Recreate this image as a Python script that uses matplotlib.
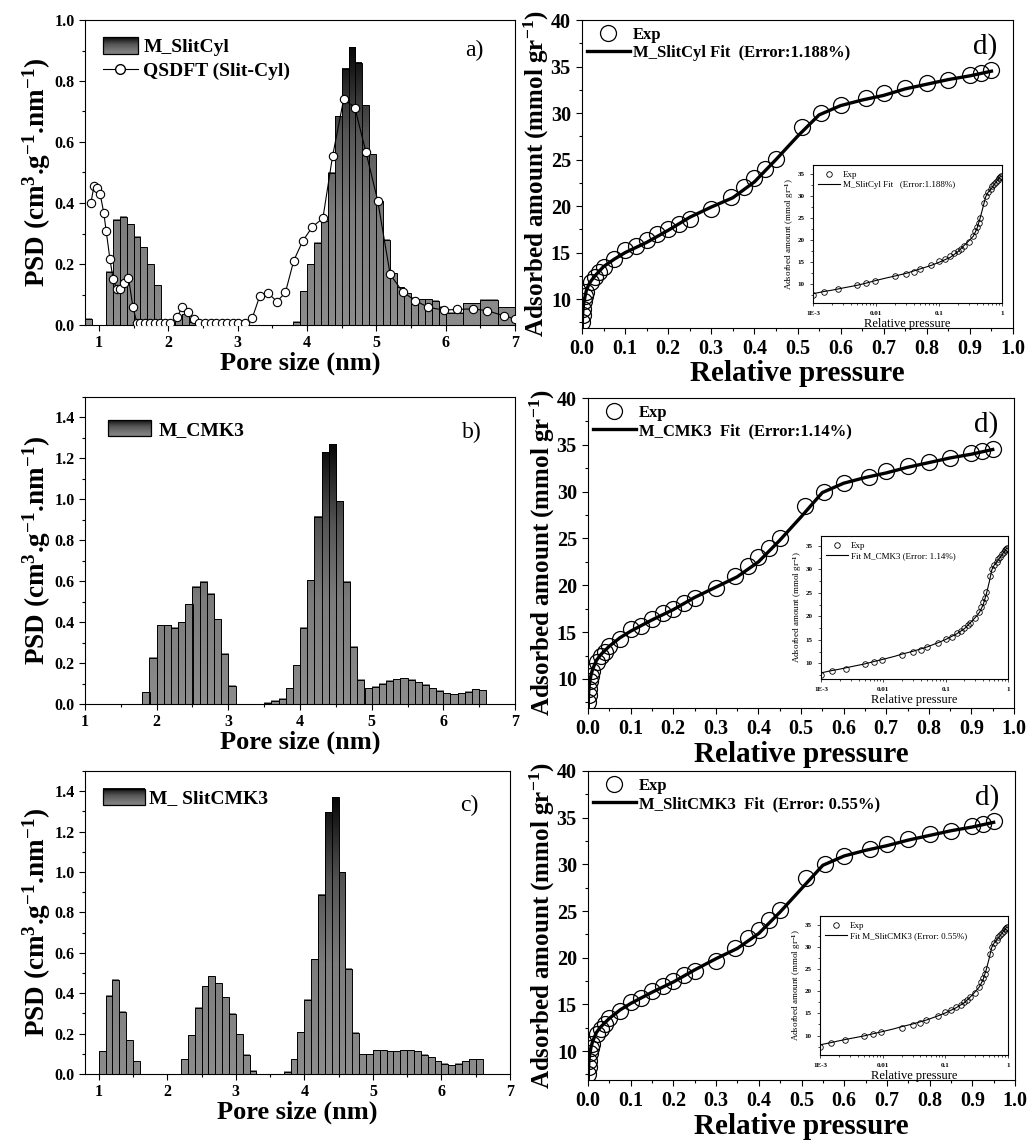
import numpy as np
import matplotlib
matplotlib.use('Agg')
import matplotlib.pyplot as plt
from matplotlib.colors import LinearSegmentedColormap
from matplotlib.patches import Rectangle, Patch
from matplotlib.lines import Line2D
from matplotlib.legend_handler import HandlerBase
from matplotlib.ticker import MultipleLocator, LogLocator, FixedLocator, FixedFormatter, NullFormatter

plt.rcParams['font.family'] = ['Liberation Serif', 'DejaVu Serif']
plt.rcParams['font.weight'] = 'bold'
plt.rcParams['axes.labelweight'] = 'bold'
plt.rcParams['mathtext.fontset'] = 'custom'
plt.rcParams['mathtext.rm'] = 'Liberation Serif:bold'
plt.rcParams['mathtext.bf'] = 'Liberation Serif:bold'
plt.rcParams['mathtext.it'] = 'Liberation Serif:bold:italic'

# ---- pore size distributions (bin edges in nm, PSD values) ----
slitcyl_lo = [0.8, 1.1, 1.2, 1.3, 1.4, 1.5, 1.6, 1.7, 1.8, 1.9, 2.0, 2.1, 2.2, 2.3,
              3.8, 3.9, 4.0, 4.1, 4.2, 4.3, 4.4, 4.5, 4.6, 4.7, 4.8, 4.9, 5.0,
              5.1, 5.2, 5.3, 5.4, 5.5, 5.6, 5.7, 5.8, 5.9, 6.0, 6.25, 6.5, 6.75]
slitcyl_hi = [0.9, 1.2, 1.3, 1.4, 1.5, 1.6, 1.7, 1.8, 1.9, 2.0, 2.1, 2.2, 2.3, 2.4,
              3.9, 4.0, 4.1, 4.2, 4.3, 4.4, 4.5, 4.6, 4.7, 4.8, 4.9, 5.0, 5.1,
              5.2, 5.3, 5.4, 5.5, 5.6, 5.7, 5.8, 5.9, 6.0, 6.25, 6.5, 6.75, 7.0]
slitcyl_psd = [0.02, 0.175, 0.345, 0.355, 0.33, 0.29, 0.255, 0.20, 0.13, 0.008, 0.008, 0.03, 0.035, 0.01,
               0.01, 0.11, 0.20, 0.27, 0.34, 0.50, 0.685, 0.84, 0.91, 0.86, 0.72, 0.56, 0.405,
               0.28, 0.17, 0.124, 0.104, 0.09, 0.085, 0.084, 0.08, 0.06, 0.04, 0.071, 0.082, 0.058]

qsdft_x = [0.885, 0.93, 0.98, 1.02, 1.07, 1.105, 1.16, 1.206, 1.26, 1.31, 1.363, 1.427, 1.49, 1.547,
           1.6, 1.67, 1.74, 1.81, 1.88, 1.96, 2.03, 2.13, 2.2, 2.285, 2.37, 2.45, 2.53, 2.61,
           2.69, 2.77, 2.85, 2.93, 3.01, 3.1, 3.21, 3.32, 3.44, 3.57, 3.69, 3.81, 3.94, 4.08,
           4.23, 4.37, 4.53, 4.69, 4.85, 5.02, 5.2, 5.38, 5.56, 5.75, 5.97, 6.17, 6.39, 6.6, 6.84, 7.0]
qsdft_y = [0.40, 0.457, 0.448, 0.428, 0.368, 0.309, 0.215, 0.15, 0.117, 0.119, 0.139, 0.155, 0.06, 0.008,
           0.005, 0.005, 0.005, 0.005, 0.005, 0.005, 0.005, 0.027, 0.058, 0.042, 0.02, 0.005, 0.005, 0.005,
           0.005, 0.005, 0.005, 0.005, 0.005, 0.005, 0.022, 0.095, 0.104, 0.077, 0.107, 0.211, 0.276, 0.322,
           0.35, 0.554, 0.741, 0.713, 0.568, 0.408, 0.166, 0.109, 0.08, 0.058, 0.049, 0.051, 0.053, 0.047, 0.03, 0.02]

cmk3_lo = [1.8, 1.9, 2.0, 2.1, 2.2, 2.3, 2.4, 2.5, 2.6, 2.7, 2.8, 2.9, 3.0,
           3.5, 3.6, 3.7, 3.8, 3.9, 4.0, 4.1, 4.2, 4.3, 4.4, 4.5, 4.6, 4.7, 4.8, 4.9,
           5.0, 5.1, 5.2, 5.3, 5.4, 5.5, 5.6, 5.7, 5.8, 5.9, 6.0, 6.1, 6.2, 6.3, 6.4, 6.5]
cmk3_psd = [0.057, 0.225, 0.384, 0.384, 0.372, 0.40, 0.487, 0.574, 0.598, 0.539, 0.413, 0.246, 0.09,
            0.007, 0.016, 0.025, 0.077, 0.19, 0.372, 0.605, 0.916, 1.23, 1.27, 0.99, 0.597, 0.279, 0.118, 0.077,
            0.085, 0.10, 0.113, 0.121, 0.126, 0.118, 0.107, 0.093, 0.077, 0.064, 0.052, 0.048, 0.052, 0.061, 0.072, 0.066]

slitcmk3_lo = [1.0, 1.1, 1.2, 1.3, 1.4, 1.5,
               2.2, 2.3, 2.4, 2.5, 2.6, 2.7, 2.8, 2.9, 3.0, 3.1, 3.2,
               3.7, 3.8, 3.9, 4.0, 4.1, 4.2, 4.3, 4.4, 4.5, 4.6, 4.7, 4.8, 4.9,
               5.0, 5.1, 5.2, 5.3, 5.4, 5.5, 5.6, 5.7, 5.8, 5.9, 6.0, 6.1, 6.2, 6.3, 6.4, 6.5]
slitcmk3_psd = [0.112, 0.388, 0.467, 0.307, 0.167, 0.063,
                0.074, 0.191, 0.327, 0.434, 0.483, 0.45, 0.38, 0.299, 0.198, 0.096, 0.017,
                0.01, 0.074, 0.206, 0.368, 0.569, 0.888, 1.295, 1.371, 0.998, 0.52, 0.203, 0.099, 0.099,
                0.117, 0.117, 0.112, 0.112, 0.117, 0.117, 0.112, 0.096, 0.083, 0.063, 0.051, 0.043, 0.051, 0.063, 0.074, 0.074]
bin_w = 0.1

# ---- isotherms (relative pressure, mmol/g) ----
exp_p = [0.001, 0.0015, 0.0025, 0.005, 0.007, 0.0095, 0.02, 0.03, 0.04, 0.05, 0.075, 0.1, 0.125,
         0.15, 0.175, 0.2, 0.225, 0.25, 0.3, 0.345, 0.375, 0.4, 0.425, 0.45, 0.51, 0.555, 0.6,
         0.66, 0.7, 0.75, 0.8, 0.85, 0.9, 0.925, 0.95]
exp_q = [7.5, 8.3, 8.9, 9.8, 10.3, 10.8, 11.8, 12.4, 12.9, 13.5, 14.3, 15.3, 15.7,
         16.4, 17.0, 17.5, 18.1, 18.6, 19.7, 21.0, 22.1, 23.0, 24.0, 25.1, 28.5, 30.0, 30.9,
         31.6, 32.2, 32.7, 33.2, 33.6, 34.1, 34.3, 34.6]

fit_p = [0.0005, 0.001, 0.0015, 0.002, 0.003, 0.005, 0.007, 0.01, 0.015, 0.02, 0.03, 0.05, 0.075,
         0.1, 0.15, 0.2, 0.25, 0.3, 0.35, 0.4, 0.45, 0.5, 0.55, 0.6, 0.65, 0.7, 0.75, 0.8, 0.85, 0.9, 0.95]
fit_slitcyl = [6.6, 7.9, 8.4, 8.7, 9.2, 9.8, 10.3, 10.9, 11.5, 11.9, 12.5, 13.5, 14.3,
               15.0, 16.1, 17.4, 18.8, 19.9, 20.9, 22.6, 25.0, 27.5, 29.8, 30.8, 31.4, 31.9, 32.6, 33.1, 33.6, 34.0, 34.5]
fit_cmk3 = [6.7, 8.0, 8.5, 8.8, 9.3, 9.9, 10.4, 10.9, 11.5, 12.0, 12.6, 13.5, 14.4,
            15.1, 16.3, 17.4, 18.7, 19.8, 20.9, 22.5, 24.8, 27.3, 29.9, 30.9, 31.5, 32.0, 32.6, 33.1, 33.6, 34.0, 34.5]
fit_slitcmk3 = [6.6, 7.9, 8.4, 8.8, 9.3, 9.9, 10.4, 10.9, 11.5, 12.0, 12.6, 13.5, 14.4,
                15.1, 16.3, 17.4, 18.7, 19.9, 21.0, 22.6, 24.9, 27.4, 29.9, 30.9, 31.5, 32.0, 32.6, 33.1, 33.6, 34.0, 34.5]

bar_cmap = LinearSegmentedColormap.from_list(
    'psd', [(0.0, '#8c8c8c'), (0.4, '#7c7c7c'), (0.7, '#555555'), (0.85, '#303030'), (1.0, '#0a0a0a')])


class GradientHandler(HandlerBase):
    def create_artists(self, legend, orig_handle, xdescent, ydescent, width, height, fontsize, trans):
        n = 16
        arts = []
        for i in range(n):
            arts.append(Rectangle((-xdescent, -ydescent + height * i / n), width, height / n + 0.3,
                                  facecolor=bar_cmap(0.3 + 0.65 * i / (n - 1)), edgecolor='none',
                                  transform=trans))
        arts.append(Rectangle((-xdescent, -ydescent), width, height, facecolor='none',
                              edgecolor='black', linewidth=0.9, transform=trans))
        return arts


def gradient_bars(ax, lo, hi, h):
    top = max(h)
    for x0, x1, v in zip(lo, hi, h):
        grad = np.linspace(0, v / top, 40).reshape(-1, 1)
        ax.imshow(grad, extent=(x0, x1, 0, v), origin='lower', cmap=bar_cmap, vmin=0, vmax=1,
                  aspect='auto', interpolation='bilinear', zorder=1)
    ax.bar(lo, h, width=np.subtract(hi, lo), align='edge', facecolor='none',
           edgecolor='black', linewidth=0.7, zorder=2)


W, H = 1028, 1142
fig = plt.figure(figsize=(W / 100, H / 100), dpi=100)


def rect(l, t, r, b):
    return [l / W, 1 - b / H, (r - l) / W, (b - t) / H]


def style_psd(ax, xlim, ylim, ymajor):
    ax.set_xlim(*xlim)
    ax.set_ylim(*ylim)
    ax.xaxis.set_major_locator(FixedLocator([1, 2, 3, 4, 5, 6, 7]))
    ax.xaxis.set_minor_locator(MultipleLocator(0.5))
    ax.yaxis.set_major_locator(MultipleLocator(ymajor))
    ax.yaxis.set_minor_locator(MultipleLocator(ymajor / 2))
    ax.yaxis.set_major_formatter(matplotlib.ticker.FormatStrFormatter('%.1f'))
    ax.tick_params(which='both', direction='out', top=False, right=False, width=0.8, labelsize=11.5)
    ax.tick_params(which='major', length=4)
    ax.tick_params(which='minor', length=2.5)
    ax.set_xlabel('Pore size (nm)', fontsize=19, labelpad=0)
    ax.set_ylabel('PSD (cm$^{3}$.g$^{-1}$.nm$^{-1}$)', fontsize=19.5, labelpad=1)


grad_proxy = Patch(facecolor='grey')

# ---- a) ----
ax_a = fig.add_axes(rect(85, 20, 515, 325))
gradient_bars(ax_a, slitcyl_lo, slitcyl_hi, slitcyl_psd)
ax_a.plot(qsdft_x, qsdft_y, '-o', color='black', lw=0.8, ms=6, mfc='white', mec='black', mew=0.8,
          zorder=3, clip_on=True)
style_psd(ax_a, (0.8, 7.0), (0, 1.0), 0.2)
qs_proxy = Line2D([], [], color='black', lw=0.8, marker='o', ms=7, mfc='white', mec='black')
ax_a.legend([grad_proxy, qs_proxy], ['M_SlitCyl', 'QSDFT (Slit-Cyl)'],
            handler_map={grad_proxy: GradientHandler()}, loc='upper left', frameon=False,
            fontsize=14, handlelength=1.8, handleheight=0.9, handletextpad=0.3, labelspacing=0.25,
            borderaxespad=0.5, bbox_to_anchor=(0.0, 1.0))
ax_a.text(0.905, 0.9, 'a)', transform=ax_a.transAxes, fontsize=17, fontweight='normal',
          ha='center', va='center')

# ---- b) ----
ax_b = fig.add_axes(rect(85, 397, 515, 704))
gradient_bars(ax_b, cmk3_lo, np.add(cmk3_lo, bin_w), cmk3_psd)
style_psd(ax_b, (1.0, 7.0), (0, 1.5), 0.2)
ax_b.legend([grad_proxy], ['M_CMK3'], handler_map={grad_proxy: GradientHandler()},
            loc='upper left', frameon=False, fontsize=14, handlelength=2.2, handleheight=0.9,
            handletextpad=0.4, borderaxespad=0.8, bbox_to_anchor=(0.0, 1.0))
ax_b.text(0.9, 0.885, 'b)', transform=ax_b.transAxes, fontsize=17, fontweight='normal',
          ha='center', va='center')

# ---- c) ----
ax_c = fig.add_axes(rect(85, 771, 510, 1074))
gradient_bars(ax_c, slitcmk3_lo, np.add(slitcmk3_lo, bin_w), slitcmk3_psd)
style_psd(ax_c, (0.8, 7.0), (0, 1.5), 0.2)
ax_c.legend([grad_proxy], ['M_ SlitCMK3'], handler_map={grad_proxy: GradientHandler()},
            loc='upper left', frameon=False, fontsize=14, handlelength=2.2, handleheight=0.9,
            handletextpad=0.2, borderaxespad=0.5, bbox_to_anchor=(0.0, 1.0))
ax_c.text(0.905, 0.885, 'c)', transform=ax_c.transAxes, fontsize=17, fontweight='normal',
          ha='center', va='center')


# ---- d) isotherms ----
def iso_panel(main_rect, inset_rect, fit, main_label, inset_label, inset_ylim):
    ax = fig.add_axes(rect(*main_rect))
    ax.plot(fit_p, fit, color='black', lw=2.4, zorder=2, label=main_label)
    ax.plot(exp_p, exp_q, 'o', ms=11.5, mfc='none', mec='black', mew=0.9, zorder=3, label='Exp')
    ax.set_xlim(0, 1.0)
    ax.set_ylim(6.9, 40)
    ax.xaxis.set_major_locator(MultipleLocator(0.1))
    ax.xaxis.set_minor_locator(MultipleLocator(0.05))
    ax.yaxis.set_major_locator(MultipleLocator(5))
    ax.yaxis.set_minor_locator(MultipleLocator(2.5))
    ax.xaxis.set_major_formatter(matplotlib.ticker.FormatStrFormatter('%.1f'))
    ax.tick_params(which='both', direction='out', top=False, right=False, width=0.8, labelsize=14.5)
    ax.tick_params(which='major', length=4.5)
    ax.tick_params(which='minor', length=2.5)
    ax.set_xlabel('Relative pressure', fontsize=21, labelpad=1)
    ax.set_ylabel('Adsorbed amount (mmol gr$^{-1}$)', fontsize=18, labelpad=0)
    h, l = ax.get_legend_handles_labels()
    ax.legend(h[::-1], l[::-1], loc='upper left', frameon=False, fontsize=12, handlelength=2.6,
              handletextpad=0.2, labelspacing=0.15, borderaxespad=0.2, borderpad=0.2,
              bbox_to_anchor=(-0.005, 1.0))
    ax.text(0.935, 0.915, 'd)', transform=ax.transAxes, fontsize=21, fontweight='normal',
            ha='center', va='center')

    ins = fig.add_axes(rect(*inset_rect))
    ins.plot(fit_p, fit, color='black', lw=0.8, label=inset_label)
    ins.plot(exp_p, exp_q, 'o', ms=4, mfc='none', mec='black', mew=0.6, label='Exp')
    ins.set_xscale('log')
    ins.set_xlim(1e-3, 1)
    ins.set_ylim(*inset_ylim)
    ins.xaxis.set_major_locator(FixedLocator([1e-3, 1e-2, 1e-1, 1]))
    ins.xaxis.set_major_formatter(FixedFormatter(['1E-3', '0.01', '0.1', '1']))
    ins.xaxis.set_minor_locator(LogLocator(base=10, subs=np.arange(2, 10)))
    ins.xaxis.set_minor_formatter(NullFormatter())
    ins.yaxis.set_major_locator(MultipleLocator(5))
    ins.yaxis.set_minor_locator(MultipleLocator(2.5))
    ins.tick_params(which='both', direction='out', top=False, right=False, width=0.5, labelsize=5)
    ins.tick_params(which='major', length=2.5)
    ins.tick_params(which='minor', length=1.5)
    for s in ins.spines.values():
        s.set_linewidth(0.8)
    ins.set_xlabel('Relative pressure', fontsize=9, fontweight='normal', labelpad=1)
    ins.set_ylabel('Adsorbed amount (mmol gr$^{-1}$)', fontsize=6.5, fontweight='normal', labelpad=1)
    h, l = ins.get_legend_handles_labels()
    ins.legend(h[::-1], l[::-1], loc='upper left', frameon=False, prop={'size': 6.5, 'weight': 'normal'},
               handlelength=2.4, handletextpad=0.3, labelspacing=0.2, borderaxespad=0.2,
               bbox_to_anchor=(0.0, 1.0))
    return ax, ins


iso_panel((582, 20, 1013, 328), (813, 165, 1002, 303), fit_slitcyl,
          'M_SlitCyl Fit  (Error:1.188%)', 'M_SlitCyl Fit   (Error:1.188%)', (5.8, 37.0))
iso_panel((588, 398, 1014, 708), (821, 536, 1008, 679), fit_cmk3,
          'M_CMK3  Fit  (Error:1.14%)', 'Fit M_CMK3 (Error: 1.14%)', (6.7, 37.1))
iso_panel((588, 771, 1015, 1080), (820, 916, 1008, 1055), fit_slitcmk3,
          'M_SlitCMK3  Fit  (Error: 0.55%)', 'Fit M_SlitCMK3 (Error: 0.55%)', (5.6, 37.0))

fig.savefig('out.png', dpi=100)
